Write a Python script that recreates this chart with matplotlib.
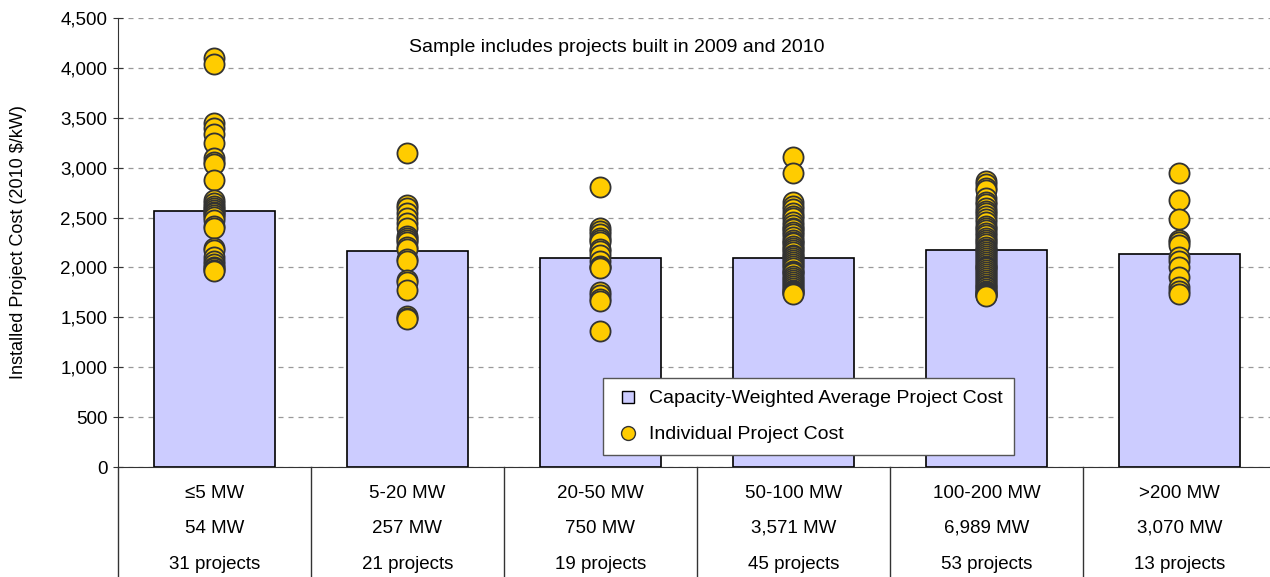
import matplotlib.pyplot as plt
import numpy as np

plt.rcParams['font.family'] = ['Liberation Sans', 'DejaVu Sans']

# -----------------------data-----------------------
size_bins = ['≤5 MW', '5-20 MW', '20-50 MW', '50-100 MW', '100-200 MW', '>200 MW']
capacity = ['54 MW', '257 MW', '750 MW', '3,571 MW', '6,989 MW', '3,070 MW']
n_projects = ['31 projects', '21 projects', '19 projects', '45 projects', '53 projects', '13 projects']

avg_cost = [2565, 2164, 2094, 2094, 2174, 2134]

cost_le5 = [4100, 4040, 3450, 3400, 3340, 3250, 3100, 3060, 3040, 2880, 2680, 2650, 2620, 2600,
            2580, 2560, 2550, 2530, 2510, 2480, 2420, 2400, 2190, 2170, 2100, 2060, 2030, 2000,
            1990, 1970, 1960]
cost_5_20 = [3150, 2630, 2600, 2550, 2500, 2450, 2400, 2320, 2300, 2280, 2250, 2200, 2180, 2080,
             2060, 1870, 1850, 1770, 1510, 1490, 1480]
cost_20_50 = [2810, 2400, 2370, 2340, 2300, 2280, 2250, 2180, 2160, 2120, 2060, 2010, 2000, 1990,
              1750, 1720, 1680, 1660, 1360]
cost_50_100 = [3110, 2950, 2660, 2620, 2590, 2550, 2520, 2500, 2460, 2430, 2400, 2390, 2360, 2340,
               2310, 2280, 2250, 2240, 2210, 2190, 2170, 2150, 2120, 2110, 2090, 2070, 2050, 2030,
               2010, 1990, 1960, 1950, 1940, 1910, 1890, 1870, 1850, 1830, 1810, 1790, 1770, 1760,
               1750, 1740, 1730]
cost_100_200 = [2870, 2840, 2800, 2780, 2700, 2660, 2640, 2600, 2570, 2550, 2520, 2490, 2460, 2420,
                2400, 2380, 2350, 2330, 2300, 2280, 2250, 2230, 2200, 2180, 2170, 2150, 2130, 2110,
                2090, 2070, 2050, 2030, 2010, 2000, 1990, 1970, 1950, 1930, 1910, 1890, 1870, 1850,
                1830, 1810, 1800, 1780, 1760, 1750, 1740, 1730, 1725, 1720, 1710]
cost_gt200 = [2950, 2680, 2490, 2280, 2250, 2220, 2100, 2060, 2000, 1900, 1800, 1760, 1730]

project_costs = [cost_le5, cost_5_20, cost_20_50, cost_50_100, cost_100_200, cost_gt200]

# -----------------------style-----------------------
bar_color = '#CCCCFF'
dot_color = '#FFCC00'
dot_edge = '#333333'
line_color = '#333333'
tick_size = 13.5
label_size = 13
note_size = 14

fig = plt.figure(figsize=(12.7, 5.77), dpi=100)
ax = fig.add_axes([118 / 1270, 110 / 577, 1158 / 1270, 449 / 577])

x = np.arange(len(size_bins))

# gridlines
ax.set_ylim(0, 4500)
ax.set_xlim(-0.5, len(size_bins) - 0.5)
ax.set_yticks(np.arange(0, 4501, 500))
ax.set_yticklabels(['{:,}'.format(v) for v in range(0, 4501, 500)], fontsize=tick_size)
ax.yaxis.grid(True, linestyle=(0, (4, 4)), color='#999999', linewidth=0.9)
ax.set_axisbelow(True)
ax.tick_params(axis='y', direction='inout', length=7, width=0.8, color=line_color, pad=4)
ax.set_xticks([])

for s in ['top', 'right']:
    ax.spines[s].set_visible(False)
ax.spines['left'].set_color(line_color)
ax.spines['bottom'].set_color(line_color)

# bars
bars = ax.bar(x, avg_cost, width=0.63, color=bar_color, edgecolor='black', linewidth=1.2, zorder=2)

# individual project dots
for i, costs in enumerate(project_costs):
    ax.plot([x[i]] * len(costs), costs, linestyle='none', marker='o', markersize=14.5,
            markerfacecolor=dot_color, markeredgecolor=dot_edge, markeredgewidth=1.3, zorder=3)

# table below the axis
tr = ax.get_xaxis_transform()
table_bottom = -0.26
ax.plot([-0.5, -0.5], [0, table_bottom], transform=tr, color=line_color, lw=1, clip_on=False)
for i in range(len(size_bins)):
    ax.plot([i + 0.5, i + 0.5], [0, table_bottom], transform=tr, color=line_color, lw=1, clip_on=False)
    ax.text(x[i], -0.058, size_bins[i], transform=tr, ha='center', va='center', fontsize=tick_size)
    ax.text(x[i], -0.136, capacity[i], transform=tr, ha='center', va='center', fontsize=tick_size)
    ax.text(x[i], -0.218, n_projects[i], transform=tr, ha='center', va='center', fontsize=tick_size)

ax.set_ylabel('Installed Project Cost (2010 $/kW)', fontsize=label_size, labelpad=24)

ax.text(0.431, 0.935, 'Sample includes projects built in 2009 and 2010', transform=ax.transAxes,
        ha='center', va='center', fontsize=note_size)

# legend
sq = plt.Line2D([], [], linestyle='none', marker='s', markersize=8, markerfacecolor=bar_color,
                markeredgecolor='black', markeredgewidth=1)
cc = plt.Line2D([], [], linestyle='none', marker='o', markersize=10, markerfacecolor=dot_color,
                markeredgecolor=dot_edge, markeredgewidth=1)
leg = ax.legend([sq, cc], ['Capacity-Weighted Average Project Cost', 'Individual Project Cost'],
                loc='upper left', bbox_to_anchor=(0.419, 0.198), fontsize=note_size,
                fancybox=False, framealpha=1, edgecolor='#555555', handletextpad=0.35,
                borderpad=0.6, labelspacing=0.95, handlelength=1.4, borderaxespad=0)
leg.get_frame().set_linewidth(1)
leg.set_zorder(5)

plt.savefig('out.png', dpi=100)
